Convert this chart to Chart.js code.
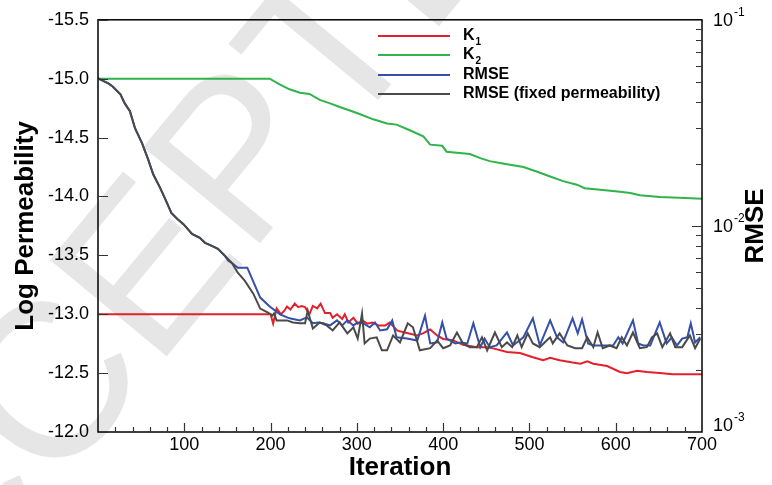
<!DOCTYPE html>
<html>
<head>
<meta charset="utf-8">
<script src="https://cdn.jsdelivr.net/npm/chart.js@4.4.1/dist/chart.umd.min.js"></script>
<style>
  html, body { margin: 0; padding: 0; background: #ffffff; }
  #wrap { width: 772px; height: 485px; position: relative; }
</style>
</head>
<body>
<div id="wrap"><canvas id="c" width="772" height="485"></canvas></div>
<script>
// ---------------- data ----------------
const xTickLabels = [100, 200, 300, 400, 500, 600, 700];
const yTickLabels = [-15.5, -15.0, -14.5, -14.0, -13.5, -13.0, -12.5, -12.0];
const rmseTickExps = [-1, -2, -3];

const k2Iter = [0,199,211,222,234,245,257,269,280,292,303,319,335,346,362,377,385,399,404,431,443,454,469,493,509,524,539,555,564,585,605,617,628,651,674,700];
const k2Vals = [-15.0,-15.0,-14.95,-14.91,-14.88,-14.87,-14.82,-14.79,-14.76,-14.73,-14.70,-14.655,-14.62,-14.61,-14.56,-14.51,-14.44,-14.43,-14.38,-14.36,-14.325,-14.30,-14.28,-14.25,-14.21,-14.17,-14.13,-14.10,-14.07,-14.055,-14.04,-14.03,-14.01,-13.995,-13.99,-13.98];

const k1Iter = [0,200,203,207,212,216,219,223,228,232,236,240,245,249,254,258,263,269,272,277,283,286,290,296,301,307,312,318,325,333,338,347,358,370,377,385,393,400,411,423,439,451,458,474,489,504,516,524,535,550,559,567,574,590,605,613,625,636,651,666,700];
const k1Vals = [-13.0,-13.0,-12.92,-13.05,-13.0,-13.03,-13.065,-13.04,-13.09,-13.06,-13.07,-13.06,-13.0,-13.07,-13.05,-13.09,-13.01,-13.01,-12.97,-13.0,-12.96,-13.0,-12.93,-12.97,-12.92,-12.945,-12.92,-12.93,-12.905,-12.905,-12.93,-12.86,-12.84,-12.82,-12.84,-12.87,-12.82,-12.79,-12.78,-12.74,-12.72,-12.72,-12.71,-12.68,-12.67,-12.635,-12.61,-12.63,-12.61,-12.59,-12.58,-12.60,-12.58,-12.56,-12.51,-12.50,-12.52,-12.51,-12.50,-12.49,-12.49];

const rmseIter = [0,12,17,26,31,37,43,51,58,64,72,78,85,92,99,109,118,124,132,139,147,151,155,162,173,180,188,199,211,222,234,242,249,255,261,269,277,283,289,296,301,307,315,321,327,335,341,346,358,370,379,385,393,399,404,414,420,428,435,443,448,454,462,474,481,493,504,512,524,532,539,550,556,561,568,574,590,597,603,608,620,626,632,640,651,659,665,671,677,683,687,692,698];
const rmseVals = [0.0519,0.0491,0.0475,0.0435,0.0393,0.0360,0.0297,0.0252,0.0211,0.0178,0.0153,0.0135,0.01156,0.0108,0.0102,0.00915,0.00875,0.00828,0.00800,0.00774,0.00716,0.00678,0.00662,0.00627,0.00627,0.00536,0.00449,0.00406,0.00372,0.00356,0.00348,0.00360,0.00337,0.00340,0.00337,0.00329,0.00348,0.00329,0.00348,0.00329,0.00340,0.00337,0.00322,0.00340,0.00311,0.00315,0.00348,0.00288,0.00284,0.00278,0.00367,0.00269,0.00272,0.00340,0.00284,0.00269,0.00272,0.00269,0.00337,0.00258,0.00284,0.00258,0.00263,0.00304,0.00263,0.00288,0.00356,0.00263,0.00348,0.00288,0.00272,0.00356,0.00301,0.00352,0.00269,0.00263,0.00263,0.00263,0.00288,0.00269,0.00348,0.00269,0.00263,0.00263,0.00340,0.00269,0.00288,0.00263,0.00284,0.00288,0.00337,0.00272,0.00288];

const fixedIter = [0,12,17,26,31,37,43,51,58,64,72,78,85,92,99,109,118,124,132,139,147,155,162,170,180,188,197,202,204,207,219,226,234,240,243,249,257,265,272,280,289,296,301,306,309,315,323,329,335,342,350,359,365,373,385,393,400,408,416,423,431,439,445,451,460,468,474,480,486,491,498,504,512,520,524,527,535,544,553,561,567,574,579,585,593,601,607,613,620,628,636,642,648,654,663,669,677,686,692,698];
const fixedVals = [0.0519,0.0491,0.0475,0.0435,0.0393,0.0360,0.0297,0.0252,0.0211,0.0178,0.0153,0.0135,0.01156,0.0108,0.0102,0.00915,0.00875,0.00828,0.00800,0.00774,0.00716,0.00662,0.00593,0.00542,0.00469,0.00397,0.00380,0.00367,0.00376,0.00348,0.00348,0.00340,0.00337,0.00337,0.00388,0.00318,0.00340,0.00329,0.00311,0.00340,0.00301,0.00322,0.00284,0.00376,0.00269,0.00284,0.00288,0.00249,0.00249,0.00294,0.00272,0.00337,0.00322,0.00249,0.00255,0.00278,0.00255,0.00263,0.00304,0.00269,0.00258,0.00258,0.00288,0.00249,0.00304,0.00258,0.00272,0.00258,0.00294,0.00258,0.00301,0.00269,0.00258,0.00278,0.00288,0.00269,0.00301,0.00263,0.00255,0.00255,0.00288,0.00258,0.00304,0.00255,0.00263,0.00255,0.00288,0.00263,0.00304,0.00255,0.00258,0.00288,0.00301,0.00258,0.00301,0.00258,0.00258,0.00294,0.00255,0.00284];

const seriesNames = ['K1', 'K2', 'RMSE', 'RMSE (fixed permeability)'];
const seriesColors = ['#e4202b', '#2fb34a', '#3450a8', '#4a4a4a'];

// ---------------- helpers ----------------
const pts = (xs, ys) => xs.map((x, i) => ({ x: x, y: ys[i] }));
const FONT = '"Liberation Sans", Arial, Helvetica, sans-serif';

const decorPlugin = {
  id: 'decor',
  beforeDraw(chart) {
    // faint "ACCEPTED" watermark
    const ctx = chart.ctx;
    ctx.save();
    ctx.translate(194, 228);
    ctx.rotate(-50.5 * Math.PI / 180);
    ctx.fillStyle = '#e6e6e6';
    ctx.font = '220px ' + FONT;
    ctx.textAlign = 'center';
    ctx.textBaseline = 'middle';
    ctx.fillText('ACCEPTED', 0, 0);
    ctx.restore();
  },
  afterDraw(chart) {
    const ctx = chart.ctx;
    const a = chart.chartArea;
    const xs = chart.scales.x, ys = chart.scales.y, rs = chart.scales.y2;
    ctx.save();
    ctx.strokeStyle = '#000';
    ctx.lineWidth = 1.5;
    ctx.strokeRect(a.left, a.top, a.right - a.left, a.bottom - a.top);
    ctx.lineWidth = 1.2;
    ctx.strokeStyle = '#333';
    ctx.beginPath();
    // bottom ticks (inward)
    for (let v = 20; v < 700; v += 20) {
      const px = Math.round(xs.getPixelForValue(v)) + 0.5;
      const len = v % 100 === 0 ? 9 : 5;
      ctx.moveTo(px, a.bottom); ctx.lineTo(px, a.bottom - len);
    }
    // left ticks (inward)
    yTickLabels.forEach(v => {
      const py = Math.round(ys.getPixelForValue(v)) + 0.5;
      ctx.moveTo(a.left, py); ctx.lineTo(a.left + 10, py);
    });
    // right log ticks (inward)
    [0.001, 0.01].forEach(d => {
      for (let m = 1; m <= 9; m++) {
        const v = m * d;
        if (v <= 0.001 || v >= 0.1) continue;
        const py = Math.round(rs.getPixelForValue(v)) + 0.5;
        const len = m === 1 ? 10 : 6;
        ctx.moveTo(a.right, py); ctx.lineTo(a.right - len, py);
      }
    });
    ctx.stroke();

    // right tick labels 10^n
    ctx.fillStyle = '#000';
    rmseTickExps.forEach(e => {
      const py = rs.getPixelForValue(Math.pow(10, e));
      const bx = a.right + 11;
      ctx.font = '18px ' + FONT;
      ctx.textAlign = 'left';
      ctx.textBaseline = 'middle';
      const yy = e === -3 ? py - 6 : py + 1;
      ctx.fillText('10', bx, yy);
      const w = ctx.measureText('10').width;
      ctx.font = '12px ' + FONT;
      ctx.fillText('-' + (-e), bx + w + 1, yy - 8);
    });

    // right axis title
    ctx.save();
    ctx.translate(756, (a.top + a.bottom) / 2);
    ctx.rotate(-Math.PI / 2);
    ctx.font = 'bold 26px ' + FONT;
    ctx.textAlign = 'center';
    ctx.textBaseline = 'middle';
    ctx.fillText('RMSE', 0, 0);
    ctx.restore();

    // legend
    const ly = [36, 55, 75, 94];
    ctx.lineWidth = 2;
    for (let i = 0; i < 4; i++) {
      ctx.strokeStyle = seriesColors[i];
      ctx.beginPath();
      ctx.moveTo(378, ly[i]); ctx.lineTo(450, ly[i]);
      ctx.stroke();
      ctx.fillStyle = '#000';
      ctx.textAlign = 'left';
      ctx.textBaseline = 'middle';
      ctx.font = 'bold 16px ' + FONT;
      const name = seriesNames[i];
      if (i < 2) {
        ctx.fillText('K', 463, ly[i]);
        const w = ctx.measureText('K').width;
        ctx.font = 'bold 10px ' + FONT;
        ctx.fillText(name.slice(1), 463 + w + 1, ly[i] + 6);
      } else {
        ctx.fillText(name, 463, ly[i]);
      }
    }
    ctx.restore();
  }
};

const ds = (label, data, color, axis, order) => ({
  label: label, data: data, borderColor: color, backgroundColor: color,
  borderWidth: 2, pointRadius: 0, tension: 0, yAxisID: axis, order: order,
  borderJoinStyle: 'miter'
});

new Chart(document.getElementById('c'), {
  type: 'line',
  data: {
    datasets: [
      ds(seriesNames[3], pts(fixedIter, fixedVals), seriesColors[3], 'y2', 0),
      ds(seriesNames[2], pts(rmseIter, rmseVals), seriesColors[2], 'y2', 1),
      ds(seriesNames[0], pts(k1Iter, k1Vals), seriesColors[0], 'y', 2),
      ds(seriesNames[1], pts(k2Iter, k2Vals), seriesColors[1], 'y', 3)
    ]
  },
  options: {
    responsive: false,
    animation: false,
    events: [],
    layout: { padding: { top: 18, left: 0, right: 0, bottom: 0 } },
    plugins: { legend: { display: false }, tooltip: { enabled: false } },
    scales: {
      x: {
        type: 'linear', min: 0, max: 700,
        afterFit: s => { s.height = 53; },
        afterBuildTicks: s => { s.ticks = xTickLabels.map(v => ({ value: v })); },
        grid: { display: false, drawTicks: false },
        border: { display: false },
        ticks: { color: '#000', padding: 2, font: { family: FONT, size: 18 }, maxRotation: 0, autoSkip: false },
        title: { display: true, text: 'Iteration', color: '#000', padding: { top: 0, bottom: 2 },
                 font: { family: FONT, size: 26, weight: 'bold' } }
      },
      y: {
        type: 'linear', position: 'left', reverse: true, min: -15.5, max: -12.0,
        afterFit: s => { s.width = 98; },
        afterBuildTicks: s => { s.ticks = yTickLabels.map(v => ({ value: v })); },
        grid: { display: false, drawTicks: false },
        border: { display: false },
        ticks: { color: '#000', padding: 9, font: { family: FONT, size: 18 },
                 callback: v => Number(v).toFixed(1) },
        title: { display: true, text: 'Log Permeability', color: '#000', padding: { top: 10, bottom: 0 },
                 font: { family: FONT, size: 26, weight: 'bold' } }
      },
      y2: {
        type: 'logarithmic', position: 'right', min: 0.001, max: 0.1,
        afterFit: s => { s.width = 70; },
        grid: { display: false, drawTicks: false },
        border: { display: false },
        ticks: { display: false }
      }
    }
  },
  plugins: [decorPlugin]
});
</script>
</body>
</html>
